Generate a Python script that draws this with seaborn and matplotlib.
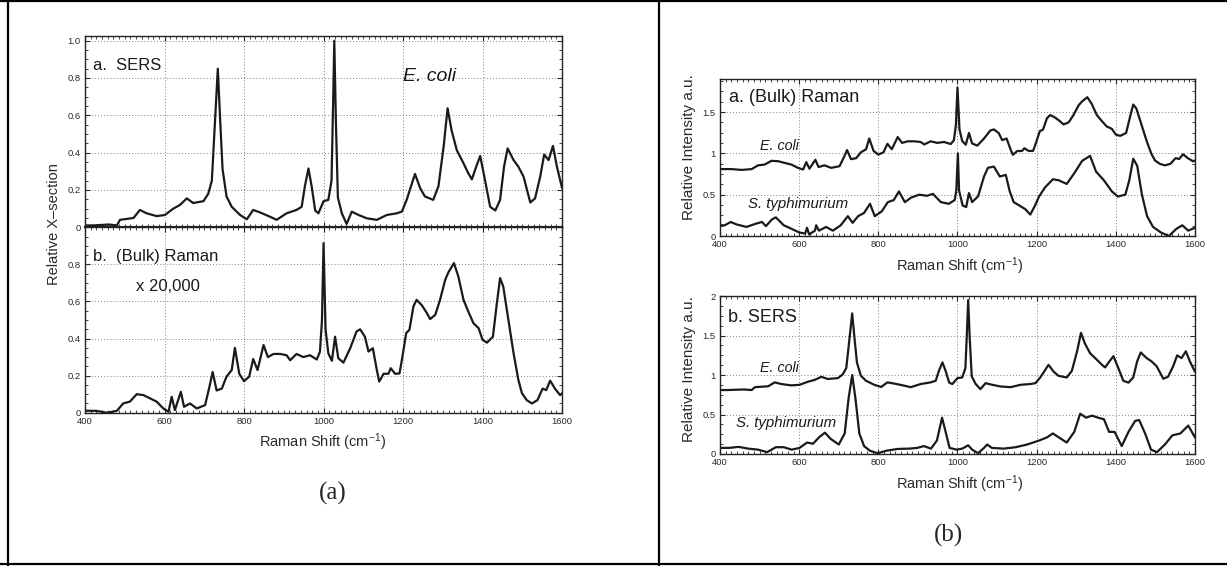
import matplotlib
matplotlib.use("Agg")
import matplotlib.pyplot as plt
from matplotlib.lines import Line2D
from matplotlib.ticker import MultipleLocator, AutoMinorLocator, FuncFormatter, FixedLocator
import seaborn as sns

sns.set_style("ticks")
plt.rcParams['font.family'] = ['Liberation Sans', 'DejaVu Sans']
plt.rcParams['mathtext.default'] = 'regular'

# ====================================================================
#   DATA
# ====================================================================

# (a) upper : SERS, E. coli
sers_ecoli_x = [400, 420, 460, 480, 488, 522, 538, 555, 580, 601, 622, 639, 656, 672, 698,
                710, 719, 727, 734, 740, 746, 756, 769, 790, 807, 823, 840, 865, 882, 907,
                932, 945, 953, 962, 970, 979, 987, 1000, 1012, 1020, 1024, 1027, 1031, 1036,
                1046, 1058, 1071, 1088, 1109, 1134, 1159, 1184, 1197, 1209, 1230, 1243, 1255,
                1276, 1289, 1302, 1312, 1322, 1335, 1352, 1364, 1373, 1384, 1394, 1406, 1419,
                1432, 1444, 1454, 1463, 1478, 1490, 1503, 1520, 1532, 1545, 1555, 1566, 1577,
                1587, 1600]
sers_ecoli_y = [0.01, 0.01, 0.015, 0.01, 0.04, 0.05, 0.093, 0.075, 0.06, 0.066, 0.10, 0.12,
                0.155, 0.13, 0.14, 0.18, 0.25, 0.57, 0.85, 0.57, 0.31, 0.165, 0.11, 0.066,
                0.043, 0.093, 0.08, 0.057, 0.04, 0.075, 0.093, 0.11, 0.22, 0.315, 0.22, 0.09,
                0.075, 0.14, 0.147, 0.25, 0.66, 1.0, 0.57, 0.16, 0.075, 0.018, 0.084, 0.066,
                0.048, 0.04, 0.066, 0.075, 0.084, 0.147, 0.286, 0.21, 0.165, 0.147, 0.22,
                0.432, 0.638, 0.52, 0.414, 0.343, 0.29, 0.257, 0.325, 0.382, 0.254, 0.11,
                0.09, 0.147, 0.325, 0.423, 0.36, 0.325, 0.272, 0.133, 0.155, 0.272, 0.39,
                0.36, 0.436, 0.325, 0.21]

# (a) lower : bulk Raman x 20,000, E. coli
bulk_ecoli_x = [400, 429, 455, 480, 496, 513, 530, 547, 564, 580, 597, 610, 618, 626, 641,
                649, 664, 681, 702, 713, 721, 731, 744, 756, 769, 777, 788, 800, 813, 823,
                834, 849, 860, 874, 891, 907, 916, 932, 949, 966, 983, 991, 996, 1000, 1005,
                1012, 1021, 1029, 1037, 1050, 1067, 1083, 1092, 1104, 1113, 1124, 1134, 1140,
                1151, 1163, 1169, 1180, 1191, 1197, 1208, 1216, 1226, 1234, 1247, 1260, 1268,
                1281, 1293, 1306, 1314, 1328, 1339, 1352, 1364, 1377, 1390, 1400, 1411, 1426,
                1436, 1444, 1452, 1465, 1478, 1490, 1499, 1511, 1524, 1538, 1551, 1560, 1570,
                1582, 1595, 1600]
bulk_ecoli_y = [0.011, 0.01, 0.0, 0.01, 0.05, 0.06, 0.10, 0.095, 0.077, 0.06, 0.023, 0.005,
                0.086, 0.014, 0.113, 0.032, 0.05, 0.023, 0.041, 0.14, 0.22, 0.12, 0.13, 0.195,
                0.23, 0.35, 0.21, 0.17, 0.195, 0.29, 0.23, 0.365, 0.30, 0.317, 0.317, 0.31,
                0.283, 0.317, 0.30, 0.31, 0.287, 0.33, 0.50, 0.915, 0.45, 0.32, 0.28, 0.41,
                0.294, 0.27, 0.348, 0.438, 0.45, 0.41, 0.33, 0.348, 0.23, 0.168, 0.21, 0.21,
                0.24, 0.21, 0.212, 0.285, 0.43, 0.447, 0.573, 0.609, 0.58, 0.537, 0.505,
                0.528, 0.609, 0.717, 0.757, 0.807, 0.735, 0.609, 0.546, 0.483, 0.456, 0.393,
                0.378, 0.41, 0.591, 0.726, 0.681, 0.50, 0.32, 0.177, 0.105, 0.068, 0.05,
                0.068, 0.13, 0.122, 0.173, 0.13, 0.095, 0.105]

# (b) upper : bulk Raman, E. coli (offset) and S. typhimurium
raman_ecoli_y = [0.81, 0.81, 0.80, 0.81, 0.855, 0.865, 0.91, 0.905, 0.884, 0.865, 0.825,
                 0.805, 0.894, 0.815, 0.923, 0.835, 0.855, 0.825, 0.845, 0.953, 1.04, 0.93,
                 0.942, 1.013, 1.05, 1.18, 1.03, 0.985, 1.013, 1.116, 1.05, 1.198, 1.127,
                 1.146, 1.146, 1.138, 1.108, 1.146, 1.127, 1.138, 1.113, 1.16, 1.345, 1.797,
                 1.29, 1.149, 1.105, 1.247, 1.12, 1.094, 1.18, 1.277, 1.29, 1.247, 1.16,
                 1.18, 1.05, 0.983, 1.029, 1.029, 1.062, 1.029, 1.031, 1.11, 1.269, 1.287,
                 1.425, 1.464, 1.432, 1.385, 1.35, 1.376, 1.464, 1.582, 1.625, 1.68, 1.60,
                 1.464, 1.395, 1.326, 1.297, 1.228, 1.212, 1.247, 1.444, 1.591, 1.542, 1.345,
                 1.149, 0.993, 0.914, 0.874, 0.855, 0.874, 0.942, 0.933, 0.989, 0.942, 0.904,
                 0.914]

raman_styph_x = [400, 412, 427, 442, 467, 491, 506, 516, 531, 541, 561, 581, 600, 615, 620,
                 625, 640, 643, 650, 668, 685, 705, 723, 735, 749, 764, 779, 791, 809, 824,
                 839, 852, 867, 883, 903, 923, 938, 958, 978, 993, 997, 1001, 1004, 1013,
                 1022, 1029, 1037, 1052, 1067, 1077, 1092, 1107, 1122, 1132, 1142, 1156,
                 1171, 1184, 1196, 1206, 1221, 1241, 1256, 1276, 1295, 1315, 1335, 1350,
                 1370, 1390, 1405, 1424, 1434, 1444, 1454, 1466, 1479, 1494, 1514, 1534,
                 1553, 1568, 1583, 1600]
raman_styph_y = [0.13, 0.13, 0.17, 0.14, 0.11, 0.15, 0.17, 0.12, 0.20, 0.226, 0.13, 0.087,
                 0.043, 0.03, 0.10, 0.02, 0.065, 0.13, 0.065, 0.11, 0.065, 0.13, 0.24, 0.16,
                 0.24, 0.28, 0.39, 0.24, 0.30, 0.41, 0.435, 0.54, 0.41, 0.465, 0.50, 0.487,
                 0.51, 0.41, 0.39, 0.435, 0.55, 1.0, 0.55, 0.37, 0.35, 0.52, 0.41, 0.48,
                 0.72, 0.826, 0.84, 0.72, 0.74, 0.54, 0.41, 0.37, 0.326, 0.26, 0.37, 0.478,
                 0.587, 0.687, 0.674, 0.63, 0.76, 0.91, 0.97, 0.78, 0.674, 0.54, 0.478,
                 0.50, 0.674, 0.935, 0.85, 0.50, 0.24, 0.11, 0.043, 0.0, 0.087, 0.13, 0.065,
                 0.10]

# (b) lower : SERS, E. coli (offset) and S. typhimurium
sers2_ecoli_y = [0.81, 0.81, 0.817, 0.81, 0.846, 0.858, 0.907, 0.886, 0.869, 0.876, 0.915,
                 0.938, 0.978, 0.95, 0.961, 1.007, 1.088, 1.456, 1.78, 1.456, 1.157, 0.99,
                 0.927, 0.876, 0.849, 0.907, 0.892, 0.866, 0.846, 0.886, 0.907, 0.927,
                 1.053, 1.16, 1.053, 0.904, 0.886, 0.961, 0.969, 1.088, 1.559, 1.95, 1.456,
                 0.984, 0.886, 0.821, 0.897, 0.876, 0.855, 0.846, 0.876, 0.886, 0.897,
                 0.969, 1.129, 1.042, 0.99, 0.969, 1.053, 1.297, 1.534, 1.398, 1.276, 1.194,
                 1.134, 1.096, 1.174, 1.239, 1.092, 0.927, 0.904, 0.969, 1.174, 1.286,
                 1.214, 1.174, 1.113, 0.953, 0.978, 1.113, 1.249, 1.214, 1.301, 1.174, 1.042]

sers_styph_x = [400, 422, 447, 471, 496, 519, 541, 561, 581, 601, 620, 635, 650, 665, 680,
                700, 715, 725, 734, 742, 752, 764, 779, 799, 819, 849, 878, 898, 915, 933,
                948, 961, 971, 980, 998, 1012, 1027, 1037, 1052, 1067, 1075, 1087, 1117,
                1147, 1176, 1206, 1226, 1241, 1256, 1276, 1295, 1310, 1325, 1340, 1355, 1370,
                1383, 1397, 1415, 1432, 1449, 1459, 1474, 1489, 1504, 1524, 1543, 1563, 1583,
                1600]
sers_styph_y = [0.077, 0.077, 0.09, 0.068, 0.055, 0.023, 0.086, 0.086, 0.055, 0.077, 0.145,
                0.13, 0.21, 0.27, 0.19, 0.12, 0.26, 0.71, 1.0, 0.71, 0.26, 0.10, 0.04, 0.01,
                0.04, 0.064, 0.068, 0.077, 0.10, 0.068, 0.17, 0.46, 0.26, 0.077, 0.055,
                0.068, 0.11, 0.055, 0.01, 0.077, 0.12, 0.077, 0.068, 0.086, 0.12, 0.17,
                0.21, 0.26, 0.21, 0.145, 0.28, 0.51, 0.46, 0.486, 0.46, 0.44, 0.28, 0.28,
                0.10, 0.28, 0.42, 0.43, 0.26, 0.055, 0.023, 0.12, 0.236, 0.26, 0.36, 0.21]

INK = '#1a1a1a'
LBL = '#2a2a2a'
SERIF = ['Liberation Serif', 'DejaVu Serif']


def style_axes(ax, ymax, yticks, fmt):
    ax.set_xlim(400, 1600)
    ax.set_ylim(0, ymax)
    ax.xaxis.set_major_locator(MultipleLocator(200))
    ax.xaxis.set_minor_locator(AutoMinorLocator(14))
    ax.yaxis.set_major_locator(FixedLocator(yticks))
    ax.yaxis.set_minor_locator(AutoMinorLocator(4))
    ax.yaxis.set_major_formatter(FuncFormatter(fmt))
    ax.tick_params(which='both', direction='in', top=True, right=True,
                   labelsize=6.8, labelcolor=LBL, pad=3)
    ax.tick_params(which='major', length=3.5, width=0.8)
    ax.tick_params(which='minor', length=2, width=0.6)
    ax.grid(True, which='major', linestyle=(0, (1, 2.2)), color='#808080', lw=0.7)
    for s in ax.spines.values():
        s.set_linewidth(1.0)
        s.set_color('#222222')
    ax.set_xlabel('')
    ax.set_ylabel('')


def left_fmt(v, pos):
    return '0' if v == 0 else f'{v:.1f}'


def right_fmt(v, pos):
    return f'{v:g}'


fig = plt.figure(figsize=(12.27, 5.66), dpi=100)

# ---- panel (a) ------------------------------------------------------
ax_a1 = fig.add_axes([0.0693, 0.5984, 0.3888, 0.3380])
ax_a2 = fig.add_axes([0.0693, 0.2708, 0.3888, 0.3276])

sns.lineplot(x=sers_ecoli_x, y=sers_ecoli_y, ax=ax_a1, color=INK, lw=1.6)
sns.lineplot(x=bulk_ecoli_x, y=bulk_ecoli_y, ax=ax_a2, color=INK, lw=1.6)

style_axes(ax_a1, 1.025, [0, 0.2, 0.4, 0.6, 0.8, 1.0], left_fmt)
style_axes(ax_a2, 1.0, [0, 0.2, 0.4, 0.6, 0.8], left_fmt)
ax_a1.tick_params(labelbottom=False)
ax_a1.spines['bottom'].set_linewidth(1.6)

ax_a1.text(0.017, 0.848, 'a.  SERS', transform=ax_a1.transAxes, fontsize=12,
           color=INK, va='center')
ax_a1.text(0.667, 0.786, 'E. coli', transform=ax_a1.transAxes, fontsize=14,
           style='italic', color=INK, va='center')
ax_a2.text(0.017, 0.845, 'b.  (Bulk) Raman', transform=ax_a2.transAxes, fontsize=12,
           color=INK, va='center')
ax_a2.text(0.107, 0.683, 'x 20,000', transform=ax_a2.transAxes, fontsize=12,
           color=INK, va='center')

fig.text(0.044, 0.604, 'Relative X\u2013section', rotation=90, ha='center', va='center',
         fontsize=10.5, color=LBL)
fig.text(0.263, 0.219, 'Raman Shift (cm$^{-1}$)', ha='center', va='center',
         fontsize=10.5, color=LBL)
fig.text(0.2714, 0.1277, '(a)', ha='center', va='center', fontsize=18, family=SERIF)

# ---- panel (b) ------------------------------------------------------
ax_b1 = fig.add_axes([0.5868, 0.5830, 0.3871, 0.2774])
ax_b2 = fig.add_axes([0.5868, 0.1979, 0.3871, 0.2790])

sns.lineplot(x=bulk_ecoli_x, y=raman_ecoli_y, ax=ax_b1, color=INK, lw=1.6)
sns.lineplot(x=raman_styph_x, y=raman_styph_y, ax=ax_b1, color=INK, lw=1.6)
sns.lineplot(x=sers_ecoli_x, y=sers2_ecoli_y, ax=ax_b2, color=INK, lw=1.6)
sns.lineplot(x=sers_styph_x, y=sers_styph_y, ax=ax_b2, color=INK, lw=1.6)

style_axes(ax_b1, 1.9, [0, 0.5, 1.0, 1.5], right_fmt)
style_axes(ax_b2, 2.0, [0, 0.5, 1.0, 1.5, 2.0], right_fmt)

ax_b1.text(0.018, 0.885, 'a. (Bulk) Raman', transform=ax_b1.transAxes, fontsize=13,
           color=INK, va='center')
ax_b1.text(0.084, 0.573, 'E. coli', transform=ax_b1.transAxes, fontsize=10.3,
           style='italic', color=INK, va='center')
ax_b1.text(0.059, 0.204, 'S. typhimurium', transform=ax_b1.transAxes, fontsize=10.8,
           style='italic', color=INK, va='center')
ax_b2.text(0.017, 0.867, 'b. SERS', transform=ax_b2.transAxes, fontsize=13,
           color=INK, va='center')
ax_b2.text(0.084, 0.544, 'E. coli', transform=ax_b2.transAxes, fontsize=10.3,
           style='italic', color=INK, va='center')
ax_b2.text(0.034, 0.196, 'S. typhimurium', transform=ax_b2.transAxes, fontsize=10.8,
           style='italic', color=INK, va='center')

fig.text(0.5615, 0.74, 'Relative Intensity a.u.', rotation=90, ha='center', va='center',
         fontsize=11, color=LBL)
fig.text(0.5615, 0.347, 'Relative Intensity a.u.', rotation=90, ha='center', va='center',
         fontsize=11, color=LBL)
fig.text(0.7817, 0.529, 'Raman Shift (cm$^{-1}$)', ha='center', va='center',
         fontsize=10.5, color=LBL)
fig.text(0.7817, 0.145, 'Raman Shift (cm$^{-1}$)', ha='center', va='center',
         fontsize=10.5, color=LBL)
fig.text(0.7729, 0.0546, '(b)', ha='center', va='center', fontsize=18, family=SERIF)

# ---- table-cell borders --------------------------------------------
for xs, ys in [([0.0065, 0.0065], [0.0, 1.0]),
               ([0.537, 0.537], [0.0, 1.0]),
               ([0.0, 1.0], [0.998, 0.998]),
               ([0.0, 1.0], [0.003, 0.003])]:
    fig.add_artist(Line2D(xs, ys, color='black', lw=1.6, transform=fig.transFigure))

fig.savefig('out.png', dpi=100)
